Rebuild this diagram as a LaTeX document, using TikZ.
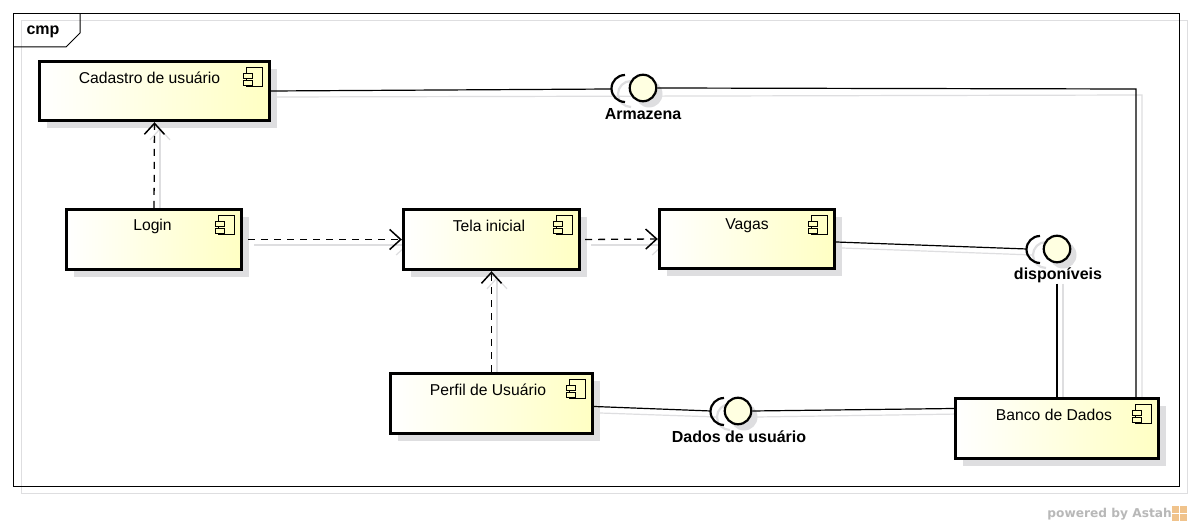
\documentclass[tikz,border=0pt]{standalone}
\usepackage{fontspec}
\setmainfont{Liberation Sans}
\newfontfamily\astahfont{DejaVu Sans}
\usetikzlibrary{arrows.meta,shadows}
\definecolor{compyellow}{RGB}{255,255,195}
\definecolor{ballyellow}{RGB}{255,255,225}
\definecolor{shadegray}{RGB}{222,222,224}
\definecolor{astahtan}{RGB}{240,195,140}
\tikzset{
  compbox/.style={draw=black,line width=3.4pt,inner sep=0pt,left color=white,right color=compyellow,
    drop shadow={shadow xshift=7.5pt,shadow yshift=-7.5pt,fill=shadegray,opacity=1}},
  comptext/.style={font=\fontsize{15.7}{18}\selectfont,inner sep=0pt,anchor=center},
  ifacetext/.style={font=\fontsize{16}{18}\selectfont\bfseries,inner sep=0pt,anchor=center},
  ball/.style={circle,draw=black,line width=2.2pt,fill=ballyellow,minimum size=26.5pt,inner sep=0pt},
  wire/.style={draw=black,line width=1.2pt},
  wireshadow/.style={draw=shadegray,line width=1.2pt},
  depend/.style={draw=black,line width=1.3pt,dash pattern=on 7pt off 6pt,-{Straight Barb[length=11pt,width=20pt,line width=1.5pt]}},
  dependshadow/.style={draw=shadegray,line width=1.2pt,-{Straight Barb[length=11pt,width=20pt,line width=1.2pt]}},
  socket/.style={draw=black,line width=2.2pt},
  socketshadow/.style={draw=shadegray,line width=2.2pt},
}
\newcommand{\compicon}[1]{
  \draw[black,line width=1pt] ([shift={(-25,8)}]#1.north east) rectangle ([shift={(-9,27)}]#1.north east);
  \draw[black,line width=1pt,fill=compyellow] ([shift={(-28,14)}]#1.north east) rectangle ([shift={(-19,19)}]#1.north east);
  \draw[black,line width=1pt,fill=compyellow] ([shift={(-28,21)}]#1.north east) rectangle ([shift={(-19,26)}]#1.north east);
}
\begin{document}
\begin{tikzpicture}[x=1pt,y=-1pt]
\useasboundingbox[fill=white] (0,0) rectangle (1192,526);
% frame
\draw[shadegray,line width=1pt] (21,21) rectangle (1187,494);
\draw[black,line width=1pt] (13.5,13.5) rectangle (1179,487);
\draw[black,line width=1pt] (13.5,47) -- (66,47) -- (80,33) -- (80,13.5);
\node[font=\fontsize{16}{18}\selectfont\bfseries,inner sep=0pt] (cmp) at (43,32) {cmp};
% connector shadows
\coordinate (armazenacorner) at (1136,89);
\coordinate (bancotop) at (1136,397);
\draw[wireshadow] (277,97) -- (1142,95) -- (1142,403);
\draw[wireshadow] (842,248) -- (1033,255);
\draw[wireshadow] (1063,284) -- (1063,403);
\draw[wireshadow] (600,413) -- (717,417);
\draw[wireshadow] (757,417) -- (960,414);
\draw[dependshadow] (160,208) -- (160,128);
\draw[dependshadow] (254,245) -- (408,245);
\draw[dependshadow] (591,245) -- (664,245);
\draw[dependshadow] (497,372) -- (497,277);
% components
\node[compbox,minimum width=230pt,minimum height=59pt] (cadastro) at (154.5,91) {};
\node[compbox,minimum width=175pt,minimum height=60pt] (login) at (154,239.5) {};
\node[compbox,minimum width=176pt,minimum height=60pt] (tela) at (491.5,239.5) {};
\node[compbox,minimum width=175pt,minimum height=59pt] (vagas) at (747,239) {};
\node[compbox,minimum width=202pt,minimum height=60pt] (perfil) at (491.5,403.5) {};
\node[compbox,minimum width=203pt,minimum height=60pt] (banco) at (1057,428.5) {};
\node[comptext] (cadastrotext) at (149.5,78) {Cadastro de usuário};
\node[comptext] (logintext) at (152.5,226) {Login};
\node[comptext] (telatext) at (489,226) {Tela inicial};
\node[comptext] (vagastext) at (747,226) {Vagas};
\node[comptext] (perfiltext) at (488,390) {Perfil de Usuário};
\node[comptext] (bancotext) at (1054,415) {Banco de Dados};
\compicon{cadastro}
\compicon{login}
\compicon{tela}
\compicon{vagas}
\compicon{perfil}
\compicon{banco}
% interfaces
\fill[shadegray] (649,94) circle (13.5);
\fill[shadegray] (1063,255) circle (13.5);
\fill[shadegray] (744,417) circle (13.5);
\draw[socketshadow] (631,81) arc[start angle=270,end angle=90,radius=13];
\draw[socketshadow] (1046,242) arc[start angle=270,end angle=90,radius=13];
\draw[socketshadow] (730,404) arc[start angle=270,end angle=90,radius=13];
\node[ball] (armazena) at (643,88) {};
\node[ball] (disponiveis) at (1057,249) {};
\node[ball] (dados) at (738,411) {};
\coordinate (armazenasock) at (612,89);
\coordinate (disponiveissock) at (1027,249);
\coordinate (dadossock) at (711,411);
\draw[socket] (625,75) arc[start angle=270,end angle=90,radius=13.5];
\draw[socket] (1040,236) arc[start angle=270,end angle=90,radius=13.5];
\draw[socket] (724,398) arc[start angle=270,end angle=90,radius=13.5];
\node[ifacetext] (armazenatext) at (643,114) {Armazena};
\node[ifacetext] (disponiveistext) at (1058,275) {disponíveis};
\node[ifacetext] (dadostext) at (739,437) {Dados de usuário};
% connectors
\draw[wire] (cadastro.east) -- (armazenasock);
\draw[wire] (armazena.east) -- (armazenacorner) -- (bancotop);
\draw[wire] ([yshift=-3pt]vagas.east) -- (disponiveissock);
\draw[wire] (banco.north |- disponiveistext.south) ++(0,1) -- (banco.north);
\draw[wire] (perfil.east) ++(0,3) -- (dadossock);
\draw[wire] (dados.east) -- ([yshift=20pt]banco.west);
\draw[depend] (login.north) -- (cadastro.south);
\draw[depend] ([xshift=5pt]login.east) -- (tela.west);
\draw[depend] ([xshift=4pt]tela.east) -- (vagas.west);
\draw[depend] (perfil.north) -- (tela.south);
% astah mark
\node[font=\astahfont\fontsize{12.2}{14}\selectfont\bfseries,text=black!28,inner sep=0pt,anchor=east] (astah) at (1172,514) {powered by Astah};
\fill[astahtan] (1172,506) rectangle (1187,521);
\draw[white,line width=1pt] (1172,513) -- (1187,513) (1179,506) -- (1179,521);
\end{tikzpicture}
\end{document}
